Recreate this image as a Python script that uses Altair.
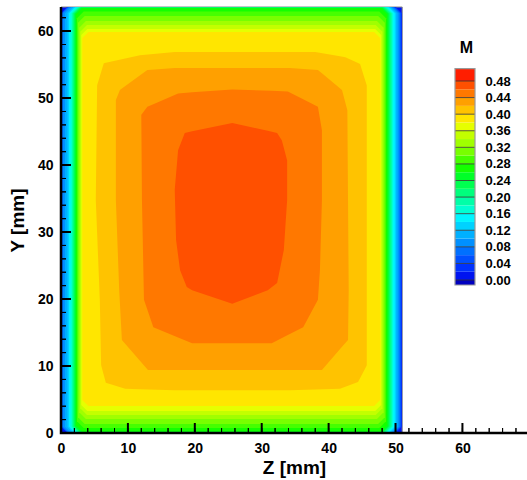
import altair as alt
import pandas as pd

# ---------------- values ----------------
DUCT_Z = [0.0, 51.0]
DUCT_Y = [0.0, 63.6]
AXIS_Z = [0.0, 69.65]

OUTER_LEVELS = [0.02, 0.04, 0.06, 0.08, 0.10, 0.12, 0.14, 0.16, 0.18, 0.20,
                0.22, 0.24, 0.26, 0.28, 0.30, 0.32, 0.34, 0.36, 0.38]
INSET_LEFT = [0.03, 0.07, 0.15, 0.30, 0.60, 0.97, 1.20, 1.42, 1.64, 1.79,
              1.94, 2.09, 2.24, 2.39, 2.54, 2.72, 2.88, 3.03, 3.18]
INSET_RIGHT = [0.07, 0.18, 0.30, 0.45, 0.67, 0.90, 1.12, 1.35, 1.54, 1.72,
               1.90, 2.06, 2.24, 2.42, 2.60, 2.78, 2.96, 3.14, 3.29]
INSET_TOP = [0.01, 0.015, 0.02, 0.03, 0.04, 0.045, 0.05, 0.06, 0.07, 0.075,
             0.09, 0.12, 0.18, 0.67, 1.34, 2.09, 2.69, 3.28, 3.73]
INSET_BOTTOM = [0.015, 0.02, 0.03, 0.04, 0.045, 0.05, 0.06, 0.07, 0.075, 0.08,
                0.10, 0.12, 0.22, 0.75, 1.34, 2.09, 2.69, 3.28, 4.03]
CORNER_CUT = [0.9, 0.9, 0.9, 0.9, 0.9, 0.9, 0.9, 0.9, 0.9, 0.9,
              0.9, 0.9, 0.9, 1.0, 1.0, 1.0, 1.0, 0.9, 0.9]

CORE_LEVELS = [0.40, 0.42, 0.44, 0.46]
C040_Z = [5.4, 6.4, 11.8, 17.0, 38.0, 42.5, 44.7, 45.7, 45.7, 45.6, 45.7, 44.4, 41.7, 34.2, 17.0, 9.6, 6.7, 6.0, 5.8, 5.2]
C040_Y = [51.9, 55.2, 56.4, 56.9, 56.9, 56.1, 55.1, 51.9, 34.8, 19.9, 10.1, 7.6, 6.6, 6.4, 6.4, 6.6, 7.5, 10.1, 19.9, 34.8]
C042_Z = [8.2, 8.8, 12.9, 17.0, 34.2, 38.4, 42.0, 42.8, 42.9, 43.0, 42.9, 39.0, 13.0, 9.1, 8.7, 8.2]
C042_Y = [49.7, 51.2, 54.2, 54.5, 54.5, 54.2, 51.2, 48.2, 34.8, 21.3, 13.9, 9.4, 9.4, 13.9, 21.3, 34.8]
C044_Z = [12.0, 12.9, 17.5, 25.6, 33.9, 38.4, 39.0, 39.0, 38.7, 38.4, 36.2, 31.5, 19.6, 13.8, 12.4, 12.1]
C044_Y = [47.5, 48.7, 50.7, 51.3, 51.0, 48.7, 45.2, 34.8, 24.3, 19.9, 15.8, 13.4, 13.4, 15.8, 19.9, 34.8]
C046_Z = [18.5, 25.6, 32.3, 33.0, 33.8, 33.8, 33.3, 32.3, 30.9, 25.6, 19.6, 18.8, 17.8, 17.2, 17.0, 17.5]
C046_Y = [44.8, 46.3, 44.8, 43.7, 40.7, 34.8, 27.3, 22.4, 21.3, 19.3, 21.3, 21.8, 24.3, 28.8, 36.3, 42.2]
CORE_Z = [C040_Z, C042_Z, C044_Z, C046_Z]
CORE_Y = [C040_Y, C042_Y, C044_Y, C046_Y]

CBAR_LOW = [-0.012, 0.00, 0.02, 0.04, 0.06, 0.08, 0.10, 0.12, 0.14, 0.16, 0.18, 0.20, 0.22,
            0.24, 0.26, 0.28, 0.30, 0.32, 0.34, 0.36, 0.38, 0.40, 0.42, 0.44, 0.46, 0.48]
CBAR_HIGH = [0.00, 0.02, 0.04, 0.06, 0.08, 0.10, 0.12, 0.14, 0.16, 0.18, 0.20, 0.22, 0.24,
             0.26, 0.28, 0.30, 0.32, 0.34, 0.36, 0.38, 0.40, 0.42, 0.44, 0.46, 0.48, 0.51]
CBAR_LABELS = [0.00, 0.04, 0.08, 0.12, 0.16, 0.20, 0.24, 0.28, 0.32, 0.36, 0.40, 0.44, 0.48]

X_LABELS = [0, 10, 20, 30, 40, 50, 60]
Y_LABELS = [0, 10, 20, 30, 40, 50, 60]
X_MINOR = list(range(0, 70, 2))
Y_MINOR = list(range(0, 64, 2))

# ---------------- styles ----------------
BAND_COLORS = ["#0000C0", "#0014F0", "#0032FF", "#0050FF", "#0070FF", "#0090FF",
               "#00B0FF", "#00D2FF", "#00F5FF", "#00FFD2", "#00FFA8", "#00FF7D",
               "#00FF50", "#00FF28", "#14FF00", "#46FF00", "#78FF00", "#A0FF00",
               "#C3FF00", "#E6FF00", "#FFE600", "#FFC300", "#FFA000", "#FF7800",
               "#FF5000", "#FF1E00"]
FONT = "Liberation Sans"
W, H = 466, 426
PX_PER_MM_X = W / (AXIS_Z[1] - AXIS_Z[0])
PX_PER_MM_Y = H / (DUCT_Y[1] - DUCT_Y[0])
MAJOR_PX, MINOR_PX = 10, 5


def band_color(level):
    return BAND_COLORS[int(round(level / 0.02)) + 1]


def polygon_to_band(pts):
    """Lower and upper outline of an x-monotone polygon at each vertex z."""
    n = len(pts)
    out = []
    for z in sorted(set(p[0] for p in pts)):
        ys = []
        for a in range(n):
            (z1, y1), (z2, y2) = pts[a], pts[(a + 1) % n]
            if min(z1, z2) <= z <= max(z1, z2):
                if z1 == z2:
                    ys += [y1, y2]
                else:
                    ys.append(y1 + (z - z1) * (y2 - y1) / (z2 - z1))
        out.append((z, min(ys), max(ys)))
    return out


# ---------------- tables ----------------
band_rows = []
polys = []
for k, lv in enumerate(OUTER_LEVELS):
    zl = DUCT_Z[0] + INSET_LEFT[k]
    zr = DUCT_Z[1] - INSET_RIGHT[k]
    yb = DUCT_Y[0] + INSET_BOTTOM[k]
    yt = DUCT_Y[1] - INSET_TOP[k]
    c = CORNER_CUT[k]
    pts = [(zl, yb + c), (zl, yt - c), (zl + c, yt), (zr - c, yt),
           (zr, yt - c), (zr, yb + c), (zr - c, yb), (zl + c, yb)]
    for z, lo, hi in polygon_to_band(pts):
        band_rows.append({"k": k, "z": z, "lo": lo, "hi": hi})
    polys.append((k, lv))
for j, lv in enumerate(CORE_LEVELS):
    k = len(OUTER_LEVELS) + j
    for z, lo, hi in polygon_to_band(list(zip(CORE_Z[j], CORE_Y[j]))):
        band_rows.append({"k": k, "z": z, "lo": lo, "hi": hi})
    polys.append((k, lv))
band_df = pd.DataFrame(band_rows)

frame_rows = []


def add_path(key, pts):
    for i, (z, y) in enumerate(pts):
        frame_rows.append({"k": key, "i": i, "z": z, "y": y})


def x_tick_path(vals, px):
    pts = []
    for t in vals:
        pts += [(t, 0.0), (t, px / PX_PER_MM_Y), (t, 0.0)]
    return pts


def y_tick_path(vals, px):
    pts = []
    for t in vals:
        pts += [(0.0, t), (px / PX_PER_MM_X, t), (0.0, t)]
    return pts


FRAME = [(100, x_tick_path(X_MINOR, MINOR_PX), 1.0),
         (101, y_tick_path(Y_MINOR, MINOR_PX), 1.0),
         (102, x_tick_path(X_LABELS, MAJOR_PX), 2.0),
         (103, y_tick_path(Y_LABELS, MAJOR_PX), 2.0),
         (104, [(0.0, DUCT_Y[1]), (0.0, 0.0), (AXIS_Z[1], 0.0)], 2.5)]
for key, pts, _ in FRAME:
    add_path(key, pts)
frame_df = pd.DataFrame(frame_rows)

duct_df = pd.DataFrame({"z0": [DUCT_Z[0]], "z1": [DUCT_Z[1]],
                        "y0": [DUCT_Y[0]], "y1": [DUCT_Y[1]]})
cbar_keys = [f"b{n:02d}" for n in range(len(CBAR_LOW))]
cbar_df = pd.DataFrame({"lo": CBAR_LOW, "hi": CBAR_HIGH, "key": cbar_keys})
cline_df = pd.DataFrame({"v": CBAR_LABELS})
cframe_df = pd.DataFrame({"lo": [CBAR_LOW[0]], "hi": [CBAR_HIGH[-1]]})

XS = alt.Scale(domain=AXIS_Z, nice=False, zero=False)
YS = alt.Scale(domain=DUCT_Y, nice=False, zero=False)
CS = alt.Scale(domain=[-0.369, 0.6585], nice=False, zero=False)

layers = []

layers.append(
    alt.Chart(duct_df).mark_rect(color=band_color(0.0), stroke="#8a8a8a", strokeWidth=1).encode(
        x=alt.X("z0:Q", scale=XS, axis=alt.Axis(
            orient="bottom", values=X_LABELS, format="d", title="Z [mm]",
            ticks=False, domain=False,
            labelFontSize=14, labelPadding=8, labelFlush=False, labelOverlap=False,
            titleFontSize=19, titleX=233, titleY=40, titleBaseline="alphabetic")),
        x2="z1:Q",
        y=alt.Y("y0:Q", scale=YS, axis=alt.Axis(
            orient="left", values=Y_LABELS, format="d", title="Y [mm]",
            ticks=False, domain=False,
            labelFontSize=14, labelPadding=8, labelFlush=False, labelOverlap=False,
            titleFontSize=19, titleX=-44, titleY=213, titleAngle=-90,
            titleBaseline="middle", titleAlign="center")),
        y2="y1:Q",
    )
)

# contour level regions as filled bands, lowest level first
for k, lv in polys:
    layers.append(
        alt.Chart(band_df).transform_filter(alt.datum.k == k)
        .mark_area(color=band_color(lv), interpolate="linear")
        .encode(
            x=alt.X("z:Q", scale=XS, axis=None),
            y=alt.Y("lo:Q", scale=YS, axis=None),
            y2="hi:Q",
        )
    )

# axis lines and inward ticks, on top of the field
for key, _, sw in FRAME:
    layers.append(
        alt.Chart(frame_df).transform_filter(alt.datum.k == key)
        .mark_line(color="black", strokeWidth=sw, interpolate="linear", strokeCap="butt")
        .encode(
            x=alt.X("z:Q", scale=XS, axis=None),
            y=alt.Y("y:Q", scale=YS, axis=None),
            order=alt.Order("i:Q"),
        )
    )

# colour bar
layers.append(
    alt.Chart(cbar_df).mark_rect().encode(
        x=alt.value(394), x2=alt.value(414),
        y=alt.Y("lo:Q", scale=CS, axis=alt.Axis(
            orient="right", offset=-52, values=CBAR_LABELS, format=".2f",
            ticks=False, domain=False, labelFontSize=13, labelPadding=10,
            labelOverlap=False, labelFlush=False,
            title="M", titleAngle=0, titleX=-9, titleY=40, titleFontSize=16,
            titleAlign="center", titleBaseline="middle")),
        y2="hi:Q",
        color=alt.Color("key:N", scale=alt.Scale(domain=cbar_keys, range=BAND_COLORS), legend=None),
    )
)
layers.append(
    alt.Chart(cline_df).mark_rule(color="#333333", strokeWidth=1, opacity=0.8).encode(
        x=alt.value(394), x2=alt.value(414),
        y=alt.Y("v:Q", scale=CS, axis=None),
    )
)
layers.append(
    alt.Chart(cframe_df).mark_rect(fillOpacity=0, stroke="#999999", strokeWidth=1.2).encode(
        x=alt.value(394), x2=alt.value(414),
        y=alt.Y("lo:Q", scale=CS, axis=None),
        y2="hi:Q",
    )
)

chart = (
    alt.layer(*layers)
    .resolve_scale(y="independent")
    .resolve_axis(x="independent", y="independent")
    .properties(width=W, height=H,
                autosize=alt.AutoSizeParams(type="none"),
                padding={"left": 61, "top": 7, "right": 0, "bottom": 47})
    .configure_view(stroke=None)
    .configure_axis(labelFont=FONT, titleFont=FONT, labelFontWeight="bold",
                    titleFontWeight="bold", labelColor="black", titleColor="black",
                    grid=False)
)

chart.save("out.html", embed_options={"renderer": "svg", "actions": False})
